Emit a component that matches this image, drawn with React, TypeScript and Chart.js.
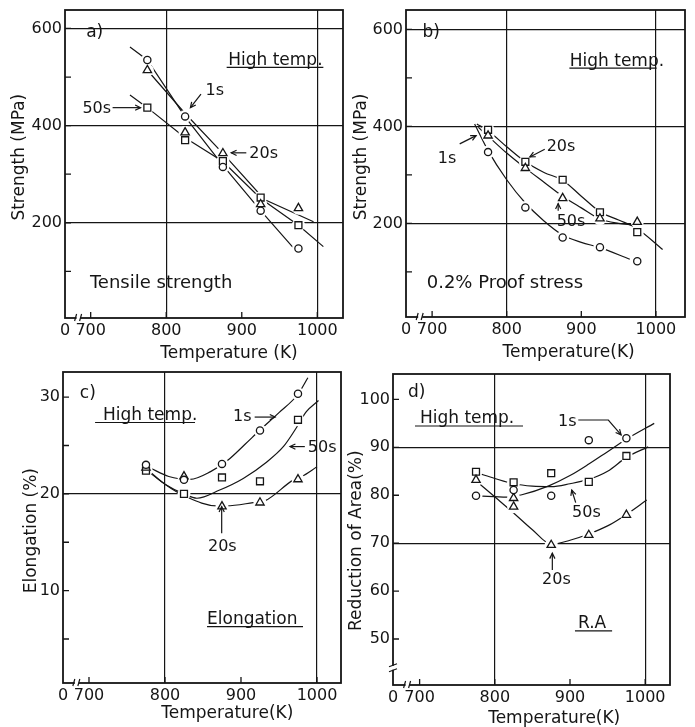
import React, { useEffect, useRef } from 'react';
import { Chart, registerables } from 'chart.js';

Chart.register(...registerables);

const PAGE_W = 695;
const PAGE_H = 727;
const INK = '#151515';
const FONT = "'DejaVu Sans', 'Liberation Sans', sans-serif";
const Y_AXIS_W = 44;
const X_AXIS_H = 40;

// ---------- shared axis values ----------
const TEMPS = [775, 825, 875, 925, 975];
const X_TICK_VALUES = [700, 800, 900, 1000];
const X_GRID_VALUES = [800, 1000];
const X_BREAK = 684;

// ---------- a) Tensile strength (MPa) ----------
const tsCircle = [535, 419, 315, 225, 147];
const tsTriangle = [514, 386, 343, 238, 230];
const tsSquare = [437, 370, 327, 252, 195];
const tsFit1sT = [752, 775, 825, 875, 925, 973];
const tsFit1sV = [562, 535, 418, 318, 225, 140];
const tsFit20sT = [775, 825, 875, 930, 995];
const tsFit20sV = [514, 425, 343, 248, 202];
const tsFit50sT = [752, 775, 825, 875, 925, 975, 1008];
const tsFit50sV = [463, 437, 375, 326, 250, 195, 151];
const tsYTicks = [100, 200, 300, 400, 500, 600];
const tsYLabels = [200, 400, 600];
const tsYGrid = [200, 400, 600];

// ---------- b) 0.2% proof stress (MPa) ----------
const psCircle = [347, 233, 171, 151, 122];
const psTriangle = [381, 314, 252, 210, 203];
const psSquare = [393, 327, 290, 223, 182];
const psFit1sT = [757, 775, 800, 825, 850, 875, 900, 925, 965];
const psFit1sV = [405, 350, 290, 242, 205, 176, 161, 150, 126];
const psFit20sT = [762, 775, 800, 825, 850, 875, 900, 925, 950, 968];
const psFit20sV = [398, 380, 345, 314, 285, 256, 232, 209, 200, 197];
const psFit50sT = [760, 775, 800, 825, 850, 875, 900, 925, 950, 975, 1009];
const psFit50sV = [405, 391, 358, 327, 305, 289, 256, 224, 207, 189, 146];
const psYTicks = [100, 200, 300, 400, 500, 600];
const psYLabels = [200, 400, 600];
const psYGrid = [200, 400, 600];

// ---------- c) Elongation (%) ----------
const elCircle = [23.0, 21.45, 23.1, 26.55, 30.35];
const elTriangle = [22.7, 21.8, 18.7, 19.1, 21.5];
const elSquare = [22.4, 20.0, 21.7, 21.3, 27.66];
const elFit1sT = [780, 805, 833, 860, 883, 905, 925, 950, 975, 988];
const elFit1sV = [22.7, 21.8, 21.5, 22.3, 23.5, 25.1, 26.6, 28.4, 30.3, 32.0];
const elFit20sT = [780, 800, 828, 868, 881, 916, 932, 969, 980, 1000];
const elFit20sV = [22.3, 21.0, 19.7, 18.76, 18.76, 19.1, 19.3, 21.45, 21.8, 22.8];
const elFit50sT = [780, 800, 825, 842, 872, 903, 934, 956, 971, 986, 1002];
const elFit50sV = [22.2, 21.0, 20.0, 19.55, 20.4, 21.6, 23.3, 24.9, 26.6, 28.5, 29.65];
const elYTicks = [5, 10, 15, 20, 25, 30];
const elYLabels = [10, 20, 30];
const elYGrid = [20];

// ---------- d) Reduction of area (%) ----------
const raCircle = [79.9, 81.1, 79.9, 91.5, 91.9];
const raTriangleT = [775, 825, 825, 875, 925, 975];
const raTriangle = [83.2, 79.4, 77.6, 69.6, 71.7, 75.9];
const raSquare = [84.9, 82.7, 84.6, 82.8, 88.2];
const raFit1sT = [778, 816, 836, 871, 900, 925, 950, 975, 1012];
const raFit1sV = [79.85, 79.6, 80.1, 81.9, 84.1, 86.5, 89.1, 91.7, 95.0];
const raFit20sT = [775, 805, 825, 850, 875, 900, 925, 950, 975, 1002];
const raFit20sV = [83.0, 79.0, 76.3, 72.8, 69.8, 70.6, 71.9, 73.6, 76.0, 79.0];
const raFit50sT = [778, 800, 825, 850, 875, 900, 925, 950, 975, 1004];
const raFit50sV = [84.6, 83.5, 82.4, 81.9, 81.8, 82.4, 83.3, 85.0, 87.9, 90.1];
const raYTicks = [50, 60, 70, 80, 90, 100];
const raYLabels = [50, 60, 70, 80, 90, 100];
const raYGrid = [70, 90];

// ---------- types ----------
type Pt = [number, number];
type Note =
  | { kind: 'text'; text: string; at: Pt; size?: number }
  | { kind: 'line'; pts: Pt[]; arrow?: boolean };
type Series = { t: number[]; v: number[] };
type Marker = { t: number[]; v: number[]; style: 'circle' | 'triangle' | 'rect' };
type Panel = {
  frame: { left: number; top: number; right: number; bottom: number };
  x: [number, number];
  y: [number, number];
  yTicks: number[];
  yLabels: number[];
  yGrid: number[];
  curved: boolean;
  fits: Series[];
  markers: Marker[];
  notes: Note[];
  xTitle: { text: string; at: number; dy: number };
  yTitle: { text: string; at: number; dx: number };
  yBreak?: number;
};

const MARK_RADIUS: Record<string, number> = { circle: 3.6, triangle: 4.8, rect: 4.9 };

const PANELS: Panel[] = [
  {
    frame: { left: 65, top: 10, right: 343, bottom: 318 },
    x: [666, 1034],
    y: [4, 638],
    yTicks: tsYTicks,
    yLabels: tsYLabels,
    yGrid: tsYGrid,
    curved: false,
    fits: [
      { t: tsFit1sT, v: tsFit1sV },
      { t: tsFit20sT, v: tsFit20sV },
      { t: tsFit50sT, v: tsFit50sV },
    ],
    markers: [
      { t: TEMPS, v: tsCircle, style: 'circle' },
      { t: TEMPS, v: tsTriangle, style: 'triangle' },
      { t: TEMPS, v: tsSquare, style: 'rect' },
    ],
    notes: [
      { kind: 'text', text: 'a)', at: [694, 583], size: 17 },
      { kind: 'text', text: 'High temp.', at: [882, 524], size: 17 },
      { kind: 'line', pts: [[880, 520], [1008, 520]] },
      { kind: 'text', text: '1s', at: [852, 463], size: 16 },
      { kind: 'line', pts: [[846, 465], [832, 437]], arrow: true },
      { kind: 'text', text: '50s', at: [689, 426], size: 16 },
      { kind: 'line', pts: [[729, 437], [766, 437]], arrow: true },
      { kind: 'text', text: '20s', at: [910, 333], size: 16 },
      { kind: 'line', pts: [[906, 344], [886, 344]], arrow: true },
      { kind: 'text', text: 'Tensile strength', at: [699, 66], size: 18 },
    ],
    xTitle: { text: 'Temperature (K)', at: 883, dy: 36 },
    yTitle: { text: 'Strength (MPa)', at: 335, dx: 45 },
  },
  {
    frame: { left: 406, top: 10, right: 685, bottom: 317 },
    x: [665, 1039],
    y: [7, 640],
    yTicks: psYTicks,
    yLabels: psYLabels,
    yGrid: psYGrid,
    curved: true,
    fits: [
      { t: psFit1sT, v: psFit1sV },
      { t: psFit20sT, v: psFit20sV },
      { t: psFit50sT, v: psFit50sV },
    ],
    markers: [
      { t: TEMPS, v: psCircle, style: 'circle' },
      { t: TEMPS, v: psTriangle, style: 'triangle' },
      { t: TEMPS, v: psSquare, style: 'rect' },
    ],
    notes: [
      { kind: 'text', text: 'b)', at: [687, 585], size: 17 },
      { kind: 'text', text: 'High temp.', at: [884.5, 525], size: 17 },
      { kind: 'line', pts: [[884, 520], [1001, 520]] },
      { kind: 'text', text: '1s', at: [707.5, 325], size: 16 },
      { kind: 'line', pts: [[737, 364], [759, 381]], arrow: true },
      { kind: 'text', text: '20s', at: [853.6, 350], size: 16 },
      { kind: 'line', pts: [[851, 353], [831, 337]], arrow: true },
      { kind: 'text', text: '50s', at: [867, 195], size: 16 },
      { kind: 'line', pts: [[869, 226], [869, 241]], arrow: true },
      { kind: 'text', text: '0.2% Proof stress', at: [692.8, 67], size: 18 },
    ],
    xTitle: { text: 'Temperature(K)', at: 883, dy: 36 },
    yTitle: { text: 'Strength (MPa)', at: 337, dx: 44 },
  },
  {
    frame: { left: 63, top: 372, right: 341, bottom: 683 },
    x: [665.8, 1031.6],
    y: [0.45, 32.6],
    yTicks: elYTicks,
    yLabels: elYLabels,
    yGrid: elYGrid,
    curved: true,
    fits: [
      { t: elFit1sT, v: elFit1sV },
      { t: elFit20sT, v: elFit20sV },
      { t: elFit50sT, v: elFit50sV },
    ],
    markers: [
      { t: TEMPS, v: elCircle, style: 'circle' },
      { t: TEMPS, v: elTriangle, style: 'triangle' },
      { t: TEMPS, v: elSquare, style: 'rect' },
    ],
    notes: [
      { kind: 'text', text: 'c)', at: [688, 29.9], size: 17 },
      { kind: 'text', text: 'High temp.', at: [718.4, 27.66], size: 17 },
      { kind: 'line', pts: [[708, 27.38], [839.5, 27.38]] },
      { kind: 'text', text: '1s', at: [889.5, 27.55], size: 16 },
      { kind: 'line', pts: [[918, 27.94], [945, 27.94]], arrow: true },
      { kind: 'text', text: '50s', at: [988, 24.35], size: 16 },
      { kind: 'line', pts: [[984, 24.89], [964.5, 24.89]], arrow: true },
      { kind: 'text', text: '20s', at: [856.6, 14.1], size: 16 },
      { kind: 'line', pts: [[874.6, 15.93], [874.6, 18.69]], arrow: true },
      { kind: 'text', text: 'Elongation', at: [855.3, 6.55], size: 17 },
      { kind: 'line', pts: [[855.3, 6.27], [981.6, 6.27]] },
    ],
    xTitle: { text: 'Temperature(K)', at: 882, dy: 30.5 },
    yTitle: { text: 'Elongation (%)', at: 16.2, dx: 31 },
  },
  {
    frame: { left: 393, top: 374, right: 670, bottom: 685 },
    x: [664.6, 1033],
    y: [40.4, 105.3],
    yTicks: raYTicks,
    yLabels: raYLabels,
    yGrid: raYGrid,
    curved: true,
    fits: [
      { t: raFit1sT, v: raFit1sV },
      { t: raFit20sT, v: raFit20sV },
      { t: raFit50sT, v: raFit50sV },
    ],
    markers: [
      { t: TEMPS, v: raCircle, style: 'circle' },
      { t: raTriangleT, v: raTriangle, style: 'triangle' },
      { t: TEMPS, v: raSquare, style: 'rect' },
    ],
    notes: [
      { kind: 'text', text: 'd)', at: [684.6, 100.5], size: 17 },
      { kind: 'text', text: 'High temp.', at: [700.4, 95.08], size: 17 },
      { kind: 'line', pts: [[693.8, 94.45], [837.5, 94.45]] },
      { kind: 'text', text: '1s', at: [884, 94.45], size: 16 },
      { kind: 'line', pts: [[911, 95.7], [951, 95.7], [968, 92.6]], arrow: true },
      { kind: 'text', text: '50s', at: [902.7, 75.5], size: 16 },
      { kind: 'line', pts: [[907.6, 78.46], [902.3, 81.1]], arrow: true },
      { kind: 'text', text: '20s', at: [862.8, 61.5], size: 16 },
      { kind: 'line', pts: [[876.5, 64.4], [876.5, 67.9]], arrow: true },
      { kind: 'text', text: 'R.A', at: [910.6, 52.33], size: 17 },
      { kind: 'line', pts: [[906.6, 51.7], [956, 51.7]] },
    ],
    xTitle: { text: 'Temperature(K)', at: 879, dy: 33.5 },
    yTitle: { text: 'Reduction of Area(%)', at: 70.5, dx: 36 },
    yBreak: 44,
  },
];

function makeDecor(p: Panel) {
  return {
    id: 'decor',
    beforeDatasetsDraw(chart: any) {
      const { ctx, chartArea: a, scales } = chart;
      const xs = scales.x;
      const ys = scales.y;
      ctx.save();
      ctx.strokeStyle = INK;
      ctx.lineWidth = 1.3;
      ctx.beginPath();
      for (const v of p.yTicks) {
        const y = ys.getPixelForValue(v);
        ctx.moveTo(a.left, y);
        ctx.lineTo(a.left + 6, y);
      }
      for (const v of X_TICK_VALUES) {
        const x = xs.getPixelForValue(v);
        ctx.moveTo(x, a.bottom);
        ctx.lineTo(x, a.bottom - 6);
      }
      ctx.stroke();
      ctx.lineWidth = 1.8;
      ctx.strokeRect(a.left, a.top, a.right - a.left, a.bottom - a.top);
      // x-axis break
      const bx = xs.getPixelForValue(X_BREAK);
      ctx.fillStyle = '#fff';
      ctx.fillRect(bx - 2, a.bottom - 2, 4, 4);
      ctx.lineWidth = 1.2;
      ctx.beginPath();
      ctx.moveTo(bx - 4, a.bottom + 3);
      ctx.lineTo(bx - 2, a.bottom - 4);
      ctx.moveTo(bx + 1, a.bottom + 3);
      ctx.lineTo(bx + 3, a.bottom - 4);
      ctx.stroke();
      if (p.yBreak != null) {
        const by = ys.getPixelForValue(p.yBreak);
        ctx.fillRect(a.left - 2, by - 2, 4, 4);
        ctx.beginPath();
        ctx.moveTo(a.left - 4, by - 1);
        ctx.lineTo(a.left + 4, by - 4);
        ctx.moveTo(a.left - 4, by + 4);
        ctx.lineTo(a.left + 4, by + 1);
        ctx.stroke();
      }
      ctx.restore();
    },
    afterDatasetsDraw(chart: any) {
      const { ctx, chartArea: a, scales } = chart;
      const xs = scales.x;
      const ys = scales.y;
      const px = (pt: Pt): Pt => [xs.getPixelForValue(pt[0]), ys.getPixelForValue(pt[1])];
      ctx.save();
      ctx.fillStyle = INK;
      ctx.strokeStyle = INK;
      ctx.lineWidth = 1.2;
      ctx.textAlign = 'left';
      ctx.textBaseline = 'alphabetic';
      for (const n of p.notes) {
        if (n.kind === 'text') {
          const [x, y] = px(n.at);
          ctx.font = `${n.size || 16}px ${FONT}`;
          ctx.fillText(n.text, x, y);
        } else {
          const pts = n.pts.map(px);
          ctx.beginPath();
          ctx.moveTo(pts[0][0], pts[0][1]);
          for (let i = 1; i < pts.length; i++) ctx.lineTo(pts[i][0], pts[i][1]);
          ctx.stroke();
          if (n.arrow) {
            const [x1, y1] = pts[pts.length - 1];
            const [x0, y0] = pts[pts.length - 2];
            const ang = Math.atan2(y1 - y0, x1 - x0);
            const L = 6;
            ctx.beginPath();
            ctx.moveTo(x1 - L * Math.cos(ang - 0.45), y1 - L * Math.sin(ang - 0.45));
            ctx.lineTo(x1, y1);
            ctx.lineTo(x1 - L * Math.cos(ang + 0.45), y1 - L * Math.sin(ang + 0.45));
            ctx.stroke();
          }
        }
      }
      ctx.font = `17px ${FONT}`;
      ctx.textAlign = 'center';
      ctx.textBaseline = 'middle';
      ctx.fillText(p.xTitle.text, xs.getPixelForValue(p.xTitle.at), a.bottom + p.xTitle.dy);
      ctx.translate(a.left - p.yTitle.dx, ys.getPixelForValue(p.yTitle.at));
      ctx.rotate(-Math.PI / 2);
      ctx.fillText(p.yTitle.text, 0, 0);
      ctx.restore();
    },
  };
}

function buildConfig(p: Panel): any {
  const datasets: any[] = [];
  p.fits.forEach((s) =>
    datasets.push({
      data: s.t.map((t, i) => ({ x: t, y: s.v[i] })),
      borderColor: INK,
      borderWidth: 1.2,
      pointRadius: 0,
      fill: false,
      tension: p.curved ? 0.4 : 0,
      cubicInterpolationMode: p.curved ? 'monotone' : 'default',
      order: 3,
    })
  );
  p.markers.forEach((m) =>
    datasets.push({
      data: m.t.map((t, i) => ({ x: t, y: m.v[i] })),
      showLine: false,
      pointStyle: 'circle',
      pointRadius: 6.5,
      pointBackgroundColor: '#fff',
      pointBorderColor: '#fff',
      pointBorderWidth: 0,
      order: 2,
    })
  );
  p.markers.forEach((m) =>
    datasets.push({
      data: m.t.map((t, i) => ({ x: t, y: m.v[i] })),
      showLine: false,
      pointStyle: m.style,
      pointRadius: MARK_RADIUS[m.style],
      pointBackgroundColor: '#fff',
      pointBorderColor: INK,
      pointBorderWidth: 1.3,
      order: 1,
    })
  );
  const f = p.frame;
  return {
    type: 'line',
    data: { datasets },
    plugins: [makeDecor(p)],
    options: {
      animation: false,
      responsive: false,
      devicePixelRatio: 1,
      events: [],
      layout: {
        autoPadding: false,
        padding: {
          left: f.left - Y_AXIS_W,
          top: f.top,
          right: PAGE_W - f.right,
          bottom: PAGE_H - f.bottom - X_AXIS_H,
        },
      },
      plugins: { legend: { display: false }, tooltip: { enabled: false }, title: { display: false } },
      scales: {
        x: {
          type: 'linear',
          min: p.x[0],
          max: p.x[1],
          afterBuildTicks: (s: any) => {
            s.ticks = [p.x[0], ...X_TICK_VALUES].map((value) => ({ value }));
          },
          afterFit: (s: any) => {
            s.height = X_AXIS_H;
            s.paddingLeft = 0;
            s.paddingRight = 0;
          },
          border: { display: false },
          grid: {
            drawTicks: false,
            lineWidth: 1.2,
            color: (c: any) => (c.tick && X_GRID_VALUES.includes(c.tick.value) ? INK : 'rgba(0,0,0,0)'),
          },
          ticks: {
            autoSkip: false,
            maxRotation: 0,
            minRotation: 0,
            padding: 3,
            color: INK,
            font: { family: FONT, size: 16 },
            callback: (v: number) => (v === p.x[0] ? '0' : String(v)),
          },
        },
        y: {
          type: 'linear',
          min: p.y[0],
          max: p.y[1],
          afterBuildTicks: (s: any) => {
            s.ticks = p.yTicks.map((value) => ({ value }));
          },
          afterFit: (s: any) => {
            s.width = Y_AXIS_W;
            s.paddingTop = 0;
            s.paddingBottom = 0;
          },
          border: { display: false },
          grid: {
            drawTicks: false,
            lineWidth: 1.2,
            color: (c: any) => (c.tick && p.yGrid.includes(c.tick.value) ? INK : 'rgba(0,0,0,0)'),
          },
          ticks: {
            autoSkip: false,
            padding: 3,
            color: INK,
            font: { family: FONT, size: 16 },
            callback: (v: number) => (p.yLabels.includes(v) ? String(v) : ''),
          },
        },
      },
    },
  };
}

export default function App() {
  const refs = useRef<(HTMLCanvasElement | null)[]>([]);
  useEffect(() => {
    const charts = PANELS.map((p, i) => new Chart(refs.current[i] as HTMLCanvasElement, buildConfig(p)));
    return () => charts.forEach((c) => c.destroy());
  }, []);
  return (
    <div style={{ position: 'absolute', left: 0, top: 0, width: PAGE_W, height: PAGE_H, background: '#fff' }}>
      {PANELS.map((_, i) => (
        <canvas
          key={i}
          ref={(el) => {
            refs.current[i] = el;
          }}
          width={PAGE_W}
          height={PAGE_H}
          style={{ position: 'absolute', left: 0, top: 0, width: PAGE_W, height: PAGE_H }}
        />
      ))}
    </div>
  );
}
